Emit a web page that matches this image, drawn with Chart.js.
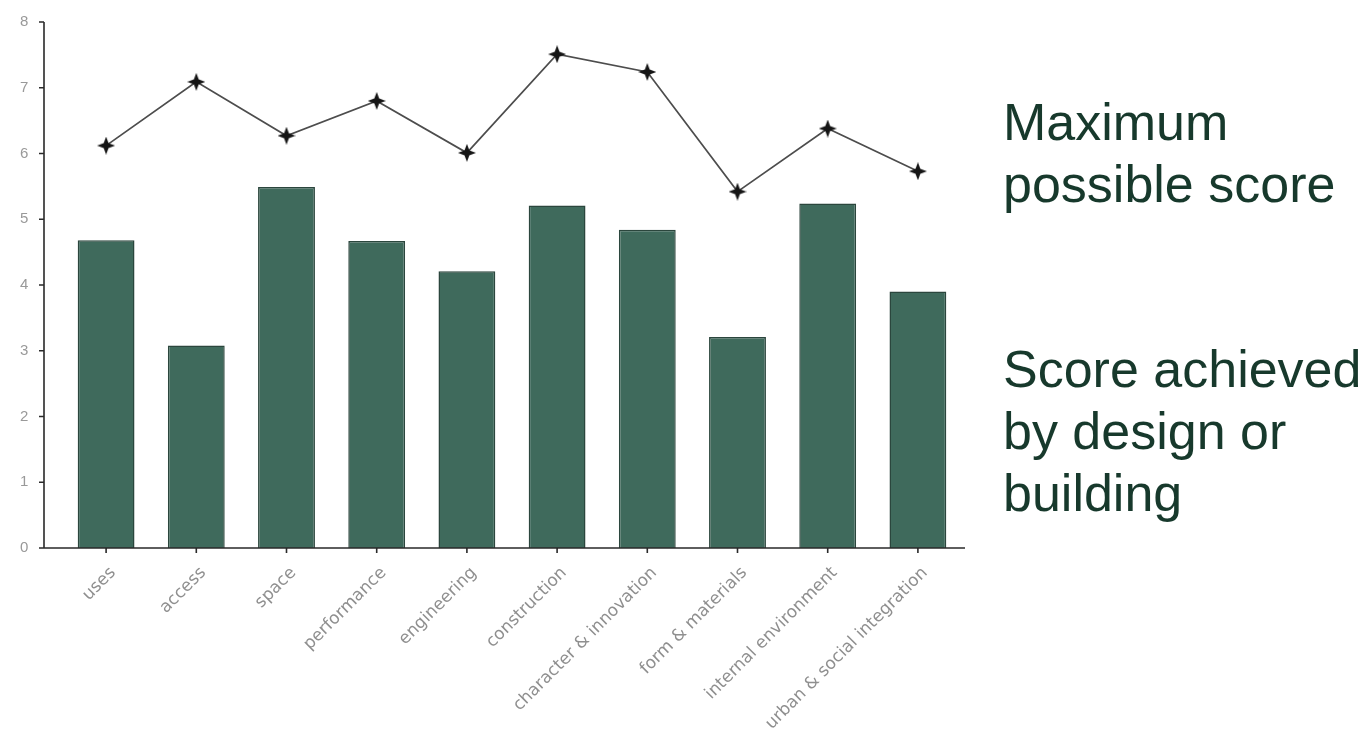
<!DOCTYPE html>
<html><head><meta charset="utf-8">
<script src="https://cdn.jsdelivr.net/npm/chart.js@4/dist/chart.umd.min.js"></script>
<style>
html,body{margin:0;padding:0;background:#fff;width:1372px;height:736px;overflow:hidden;}
#wrap{position:absolute;left:0;top:0;width:1372px;height:736px;}
.note{position:absolute;left:1003px;font-family:"Liberation Sans",Arial,sans-serif;font-size:52px;line-height:62px;color:#17392c;white-space:nowrap;}
</style></head><body>
<div id="wrap"><canvas id="c" width="1372" height="736"></canvas></div>
<div class="note" style="top:91px">Maximum<br>possible score</div>
<div class="note" style="top:338px">Score achieved<br>by design or<br>building</div>
<script>
const categories = ["uses","access","space","performance","engineering","construction","character & innovation","form & materials","internal environment","urban & social integration"];
const achievedScores = [4.68, 3.08, 5.49, 4.67, 4.21, 5.21, 4.84, 3.21, 5.24, 3.90];
const maximumScores = [6.12, 7.09, 6.27, 6.80, 6.01, 7.51, 7.24, 5.42, 6.38, 5.73];
const yTickValues = [0, 1, 2, 3, 4, 5, 6, 7, 8];
const yTickLabels = ["0", "1", "2", "3", "4", "5", "6", "7", "8"];

// 4-point star marker
function makeStar(size, color) {
  const c = document.createElement('canvas');
  c.width = size; c.height = size;
  const g = c.getContext('2d');
  const r = size / 2, ri = size * 0.19;
  g.translate(r, r);
  g.fillStyle = color;
  g.beginPath();
  for (let i = 0; i < 8; i++) {
    const a = -Math.PI / 2 + i * Math.PI / 4;
    const rad = (i % 2 === 0) ? r : ri;
    const px = Math.cos(a) * rad, py = Math.sin(a) * rad;
    if (i === 0) g.moveTo(px, py); else g.lineTo(px, py);
  }
  g.closePath();
  g.fill();
  return c;
}
const star = makeStar(18, '#151515');

const axesPlugin = {
  id: 'axes',
  afterDatasetsDraw(chart) {
    const { ctx, chartArea, scales: { x, y } } = chart;
    const axisX = chartArea.left - 17;
    const base = y.getPixelForValue(yTickValues[0]);
    const top = y.getPixelForValue(yTickValues[yTickValues.length - 1]);
    ctx.save();
    ctx.strokeStyle = '#2a2a2a';
    ctx.lineWidth = 1.6;
    ctx.beginPath();
    ctx.moveTo(axisX, top);
    ctx.lineTo(axisX, base);
    ctx.lineTo(chartArea.right + 2, base);
    yTickValues.forEach(v => {
      const py = y.getPixelForValue(v);
      ctx.moveTo(axisX - 5, py); ctx.lineTo(axisX, py);
    });
    categories.forEach((_, i) => {
      const px = x.getPixelForTick(i);
      ctx.moveTo(px, base); ctx.lineTo(px, base + 5);
    });
    ctx.stroke();
    ctx.restore();
  }
};

new Chart(document.getElementById('c'), {
  data: {
    labels: categories,
    datasets: [
      { type: 'line', label: 'Maximum possible score', data: maximumScores,
        borderColor: '#4d4d4d', borderWidth: 1.7, pointStyle: star, pointRadius: 9, pointHoverRadius: 9,
        tension: 0, fill: false, order: 0 },
      { type: 'bar', label: 'Score achieved by design or building', data: achievedScores,
        backgroundColor: '#3f6a5c', borderColor: '#2b463d', borderWidth: 1.5,
        barPercentage: 0.63, categoryPercentage: 1, order: 1 }
    ]
  },
  options: {
    responsive: false, devicePixelRatio: 1, animation: false,
    layout: { padding: { top: 22, right: 409, bottom: 0, left: 20 } },
    plugins: { legend: { display: false }, tooltip: { enabled: false } },
    scales: {
      x: {
        offset: true,
        grid: { display: false, drawTicks: false }, border: { display: false },
        ticks: { minRotation: 45, maxRotation: 45, autoSkip: false, padding: 15, labelOffset: 7,
          color: '#8f8f8f', font: { family: 'DejaVu Sans', size: 17 } },
        afterFit(s) { s.height = 188; }
      },
      y: {
        min: 0, max: 8,
        grid: { display: false, drawTicks: false }, border: { display: false },
        ticks: { stepSize: 1, padding: 0, crossAlign: 'far', color: '#999', font: { family: 'Liberation Sans', size: 15 },
          callback: (v, i) => yTickLabels[i] },
        afterFit(s) { s.width = 41; }
      }
    }
  },
  plugins: [axesPlugin]
});
</script>
</body></html>
